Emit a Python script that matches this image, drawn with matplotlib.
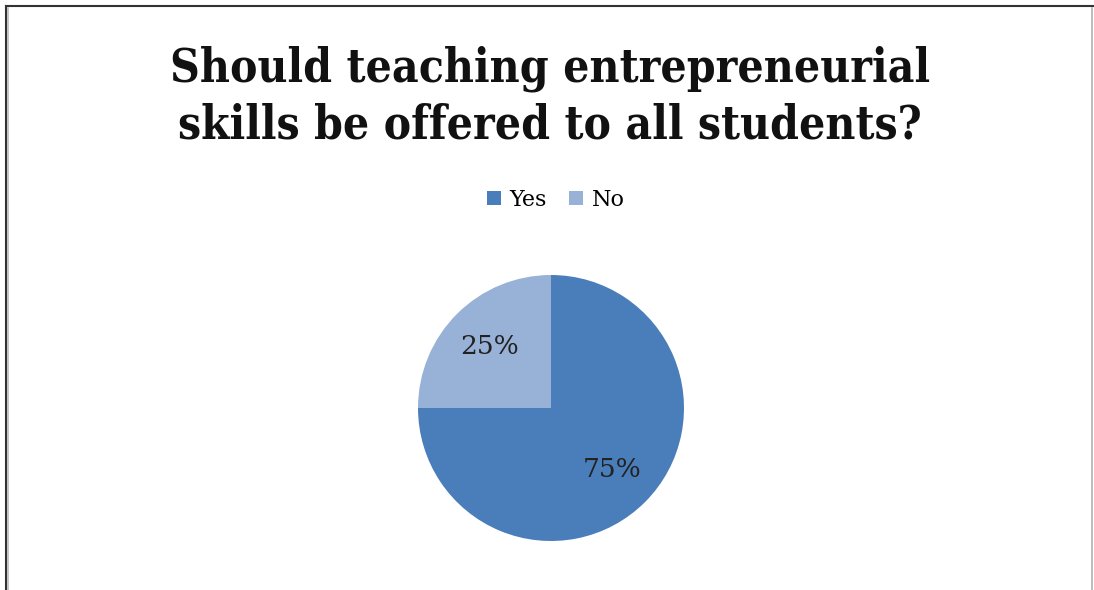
import matplotlib.pyplot as plt
from matplotlib.lines import Line2D

categories = ["Yes", "No"]
shares = [75, 25]
colors = ["#4A7EBB", "#97B1D7"]
title = "Should teaching entrepreneurial\nskills be offered to all students?"

W, H = 1094, 590
fig = plt.figure(figsize=(W / 100, H / 100), dpi=100)
fig.patch.set_facecolor("white")

# chart frame
fig.add_artist(Line2D([6 / W, 6 / W], [0, 1 - 6 / H], color="#333333", lw=1.5))
fig.add_artist(Line2D([6 / W, 1], [1 - 6 / H, 1 - 6 / H], color="#333333", lw=1.5))
fig.add_artist(Line2D([8 / W, 8 / W], [0, 1 - 8 / H], color="#bbbbbb", lw=1.2))
fig.add_artist(Line2D([1092 / W, 1092 / W], [0, 1 - 8 / H], color="#b0b0b0", lw=1.2))

fig.text(550 / W, 1 - 97 / H, title, ha="center", va="center",
         fontsize=33, fontweight="bold", family="DejaVu Serif",
         fontstretch="condensed", linespacing=1.28, color="#111111")

# pie axes
cx, cy, r = 551, H - 408, 133
ax = fig.add_axes([(cx - r) / W, (cy - r) / H, 2 * r / W, 2 * r / H])
wedges, texts, autotexts = ax.pie(
    shares, colors=colors, startangle=90, counterclock=False,
    autopct=lambda p: f"{p:.0f}%", pctdistance=0.65, radius=1,
    wedgeprops=dict(linewidth=0),
    textprops=dict(fontsize=19, family="DejaVu Serif", color="#222222"))
ax.set_xlim(-1, 1)
ax.set_ylim(-1, 1)
ax.set_aspect("equal")
ax.axis("off")

leg = fig.legend(wedges, categories, loc="center", bbox_to_anchor=(556 / W, 1 - 200 / H),
                 ncol=2, frameon=False, handlelength=0.6, handleheight=0.6,
                 handletextpad=0.4, columnspacing=1.0,
                 prop=dict(family="DejaVu Serif", size=16))

fig.savefig("out.png", dpi=100, facecolor="white")
